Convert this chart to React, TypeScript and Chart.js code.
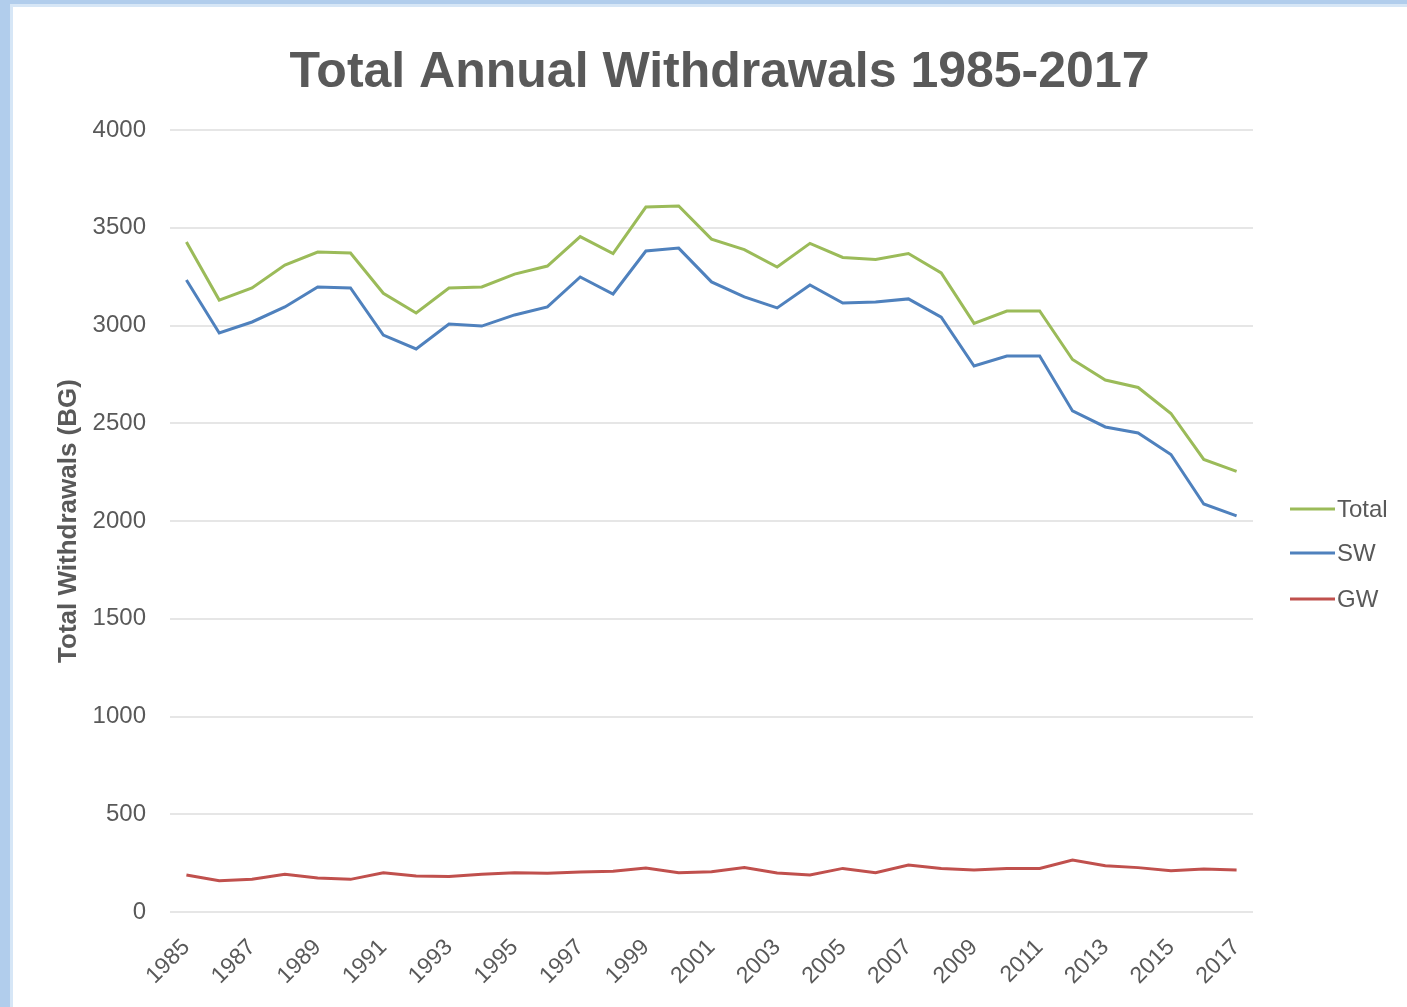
import React, { useEffect, useRef } from "react";
import { Chart, registerables } from "chart.js";

Chart.register(...registerables);

const years: string[] = [
  "1985", "1986", "1987", "1988", "1989", "1990", "1991", "1992", "1993", "1994", "1995",
  "1996", "1997", "1998", "1999", "2000", "2001", "2002", "2003", "2004", "2005", "2006",
  "2007", "2008", "2009", "2010", "2011", "2012", "2013", "2014", "2015", "2016", "2017",
];

const totalValues: number[] = [
  3427, 3130, 3192, 3309, 3376, 3371, 3165, 3064, 3192, 3197, 3263,
  3304, 3455, 3368, 3606, 3611, 3442, 3388, 3299, 3420, 3348, 3338,
  3368, 3269, 3011, 3074, 3074, 2826, 2721, 2683, 2550, 2315, 2254,
];

const swValues: number[] = [
  3233, 2962, 3018, 3095, 3197, 3192, 2951, 2880, 3008, 2997, 3054,
  3095, 3248, 3161, 3381, 3396, 3223, 3146, 3090, 3207, 3115, 3120,
  3136, 3043, 2793, 2844, 2844, 2563, 2481, 2450, 2340, 2087, 2026,
];

const gwValues: number[] = [
  189, 160, 167, 193, 174, 167, 201, 184, 181, 193, 201,
  198, 205, 208, 225, 201, 206, 228, 199, 189, 223, 201,
  240, 223, 215, 223, 223, 266, 237, 227, 211, 220, 215,
];

const seriesNames: string[] = ["Total", "SW", "GW"];
const seriesColors: string[] = ["#9bbb59", "#4f81bd", "#c0504d"];

const yTicks: number[] = [0, 500, 1000, 1500, 2000, 2500, 3000, 3500, 4000];

const chartTitle = "Total Annual Withdrawals 1985-2017";
const yAxisTitle = "Total Withdrawals (BG)";

const FONT = "'Liberation Sans', Arial, sans-serif";
const TEXT = "#595959";

const titlePlugin = {
  id: "excelTitle",
  afterDraw(chart: any) {
    const { ctx, chartArea } = chart;
    ctx.save();
    ctx.fillStyle = TEXT;
    ctx.font = `bold 50px ${FONT}`;
    ctx.textAlign = "center";
    ctx.textBaseline = "alphabetic";
    ctx.fillText(chartTitle, (chartArea.left + chartArea.right) / 2 + 8, chartArea.top - 43);
    ctx.restore();
  },
};

const legendPlugin = {
  id: "sideLegend",
  afterDraw(chart: any) {
    const { ctx, chartArea } = chart;
    const mid = (chartArea.top + chartArea.bottom) / 2;
    const offsets = [-12, 32, 78];
    ctx.save();
    chart.data.datasets.forEach((ds: any, i: number) => {
      const y = mid + offsets[i];
      const x0 = chartArea.right + 37;
      ctx.strokeStyle = ds.borderColor;
      ctx.lineWidth = 3;
      ctx.beginPath();
      ctx.moveTo(x0, y);
      ctx.lineTo(x0 + 45, y);
      ctx.stroke();
      ctx.fillStyle = TEXT;
      ctx.font = `24px ${FONT}`;
      ctx.textBaseline = "middle";
      ctx.textAlign = "left";
      ctx.fillText(ds.label, x0 + 47, y + 1);
    });
    ctx.restore();
  },
};

export default function App() {
  const canvasRef = useRef<HTMLCanvasElement | null>(null);

  useEffect(() => {
    document.body.style.margin = "0";
    const canvas = canvasRef.current;
    if (!canvas) return;
    const values = [totalValues, swValues, gwValues];
    const chart = new Chart(canvas, {
      type: "line",
      data: {
        labels: years,
        datasets: values.map((v, i) => ({
          label: seriesNames[i],
          data: v,
          borderColor: seriesColors[i],
          backgroundColor: seriesColors[i],
          borderWidth: 3,
          pointRadius: 0,
          tension: 0,
          fill: false,
        })),
      },
      options: {
        animation: false,
        responsive: false,
        maintainAspectRatio: false,
        layout: { padding: { left: 0, right: 154, top: 123, bottom: 0 } },
        plugins: {
          legend: { display: false },
          tooltip: { enabled: false },
          title: { display: false },
        },
        scales: {
          x: {
            type: "category",
            offset: true,
            grid: { display: false, drawTicks: false },
            border: { display: false },
            ticks: {
              autoSkip: false,
              maxRotation: 45,
              minRotation: 45,
              padding: 22,
              color: TEXT,
              font: { family: FONT, size: 23 },
              callback: (_v: any, idx: number) => (idx % 2 === 0 ? years[idx] : ""),
            },
            afterFit: (scale: any) => {
              scale.height = 95;
            },
          },
          y: {
            min: 0,
            max: 4000,
            grid: { color: "#e6e6e6", lineWidth: 2, drawTicks: false },
            border: { display: false },
            afterBuildTicks: (scale: any) => {
              scale.ticks = yTicks.map((v) => ({ value: v }));
            },
            ticks: {
              padding: 24,
              color: TEXT,
              font: { family: FONT, size: 24 },
              callback: (v: any) => String(v),
            },
            title: {
              display: true,
              text: yAxisTitle,
              color: TEXT,
              font: { family: FONT, size: 26, weight: "bold", lineHeight: 1.2 },
              padding: { top: 40, bottom: 0 },
            },
            afterFit: (scale: any) => {
              scale.width = 157;
            },
          },
        },
      },
      plugins: [titlePlugin, legendPlugin],
    });
    return () => chart.destroy();
  }, []);

  return (
    <div style={{ position: "relative", width: 1407, height: 1007, background: "#ffffff", overflow: "hidden" }}>
      <div style={{ position: "absolute", left: 0, top: 0, width: 1407, height: 4, background: "#b1cdec" }} />
      <div style={{ position: "absolute", left: 0, top: 4, width: 1407, height: 3, background: "#d6e6f6" }} />
      <div style={{ position: "absolute", left: 0, top: 0, width: 10, height: 1007, background: "#b1cdec" }} />
      <div style={{ position: "absolute", left: 10, top: 4, width: 3, height: 1003, background: "#d6e6f6" }} />
      <canvas
        ref={canvasRef}
        width={1394}
        height={1000}
        style={{ position: "absolute", left: 13, top: 7, width: 1394, height: 1000, display: "block" }}
      />
    </div>
  );
}
